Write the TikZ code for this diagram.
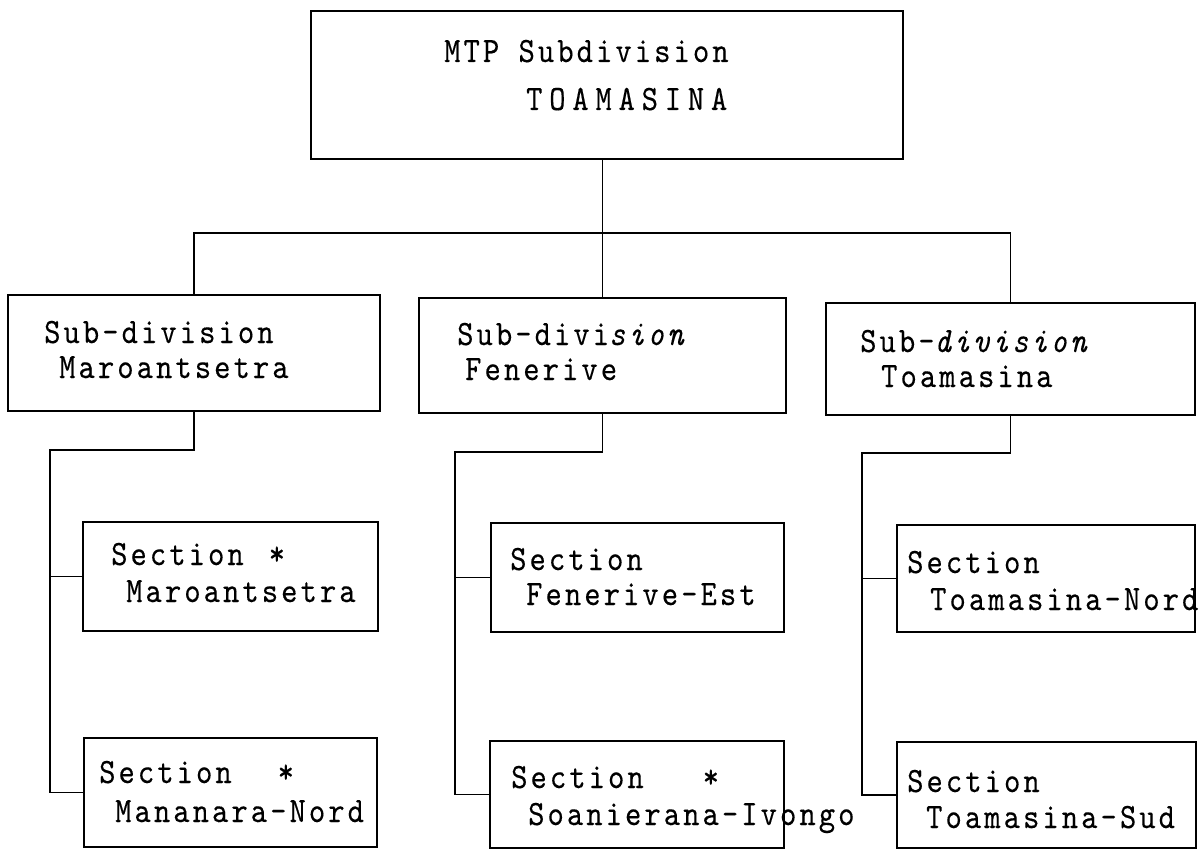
\documentclass[tikz,border=0pt]{standalone}
\usepackage{fontspec}
\usepackage{graphicx}
\usetikzlibrary{fit}
\newfontfamily\tw{lmmono10-regular}[Extension=.otf, ItalicFont=lmmono10-italic, LetterSpace=10, FakeBold=0.3]
\newcommand{\tall}[1]{\scalebox{1}[1.15]{#1}}
\tikzset{
  box/.style={draw=black, line width=2.2pt, inner sep=0pt, outer sep=0pt},
  link/.style={draw=black, line width=1.3pt},
  txt/.style={anchor=base west, inner sep=0pt, font=\tw\fontsize{31}{36}\selectfont},
}
\begin{document}
\begin{tikzpicture}[x=1pt, y=-1pt]
\useasboundingbox (0,0) rectangle (1200,851);
% boxes
\node[box, fit={(311,11) (903,159)}] (top) {};
\node[box, fit={(8,295) (380,411)}] (s1) {};
\node[box, fit={(419,298) (786,413)}] (s2) {};
\node[box, fit={(826,303) (1195,415)}] (s3) {};
\node[box, fit={(83,522) (378,631)}] (a1) {};
\node[box, fit={(491,523) (784,632)}] (a2) {};
\node[box, fit={(897,525) (1195,632)}] (a3) {};
\node[box, fit={(84,738) (377,847)}] (b1) {};
\node[box, fit={(490,741) (784,848)}] (b2) {};
\node[box, fit={(897,742) (1196,848)}] (b3) {};
% texts
\node[txt] (ttop1) at (444,62) {\tall{MTP Subdivision}};
\node[txt] (ttop2) at (526,110) {\tall{\addfontfeatures{LetterSpace=22}TOAMASINA}};
\node[txt] (ts1a) at (44,343) {\tall{Sub-division}};
\node[txt] (ts1b) at (59,378) {\tall{Maroantsetra}};
\node[txt] (ts2a) at (457,345) {\tall{Sub-divi\textit{sion}}};
\node[txt] (ts2b) at (465,380) {\tall{Fenerive}};
\node[txt] (ts3a) at (860,352) {\tall{Sub-\textit{division}}};
\node[txt] (ts3b) at (881,387) {\tall{Toamasina}};
\node[txt] (ta1a) at (111,565) {\tall{Section\hspace{25pt}*}};
\node[txt] (ta1b) at (126,602) {\tall{Maroantsetra}};
\node[txt] (ta2a) at (510,570) {\tall{Section}};
\node[txt] (ta2b) at (526,605) {\tall{Fenerive-Est}};
\node[txt] (ta3a) at (907,573) {\tall{Section}};
\node[txt] (ta3b) at (930,610) {\tall{Toamasina-Nord}};
\node[txt] (tb1a) at (99,783) {\tall{Section\hspace{46pt}*}};
\node[txt] (tb1b) at (115,822) {\tall{Mananara-Nord}};
\node[txt] (tb2a) at (511,788) {\tall{Section\hspace{59pt}*}};
\node[txt] (tb2b) at (528,825) {\tall{Soanierana-Ivongo}};
\node[txt] (tb3a) at (907,792) {\tall{Section}};
\node[txt] (tb3b) at (926,828) {\tall{Toamasina-Sud}};
% connectors
\coordinate (bus) at (0,233);
\draw[link] (top.south -| s2.north) -- (s2.north);
\draw[link] (s1.north) |- (bus -| s3.north) -- (s3.north);
\coordinate (t1) at (50,450);
\coordinate (t2) at (455,452);
\coordinate (t3) at (862,453);
\draw[link] (s1.south) |- (t1) |- (b1.west);
\draw[link] (t1 |- a1.west) -- (a1.west);
\draw[link] (s2.south) |- (t2) |- (b2.west);
\draw[link] (t2 |- a2.west) -- (a2.west);
\draw[link] (s3.south) |- (t3) |- (b3.west);
\draw[link] (t3 |- a3.west) -- (a3.west);
\end{tikzpicture}
\end{document}
